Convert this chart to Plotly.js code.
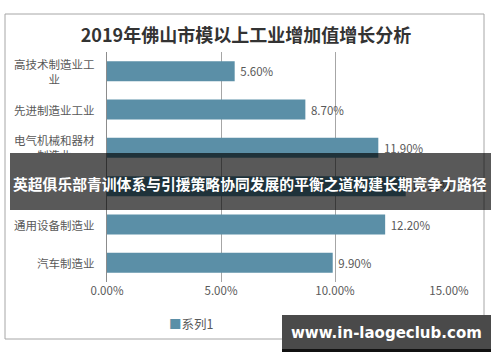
<!DOCTYPE html>
<html><head><meta charset="utf-8">
<script src="https://cdn.plot.ly/plotly-3.0.1.min.js"></script>
<style>body{margin:0;background:#fff}#c{width:500px;height:362px}</style>
</head><body><div id="c"></div>
<script>
var categories = ["高技术制造业工<br>业", "先进制造业工业", "电气机械和器材<br>制造业", "金属制品业", "通用设备制造业", "汽车制造业"];
var values = [0.056, 0.087, 0.119, 0.131, 0.122, 0.099];
var seriesName = "系列1";
var titleText = "2019年佛山市模以上工业增加值增长分析";
var bannerText = "英超俱乐部青训体系与引援策略协同发展的平衡之道构建长期竞争力路径";
var watermarkText = "www.in-laogeclub.com";

var L = 107, R = 449, T = 52, B = 282;
function px(x){ return (x - L) / (R - L); }
function py(y){ return (B - y) / (B - T); }
var font = '"Noto Sans CJK SC", "Noto Sans", sans-serif';
var barColor = '#5b8fa7';

var trace = {
  type: 'bar', orientation: 'h', name: seriesName,
  x: values, y: categories,
  marker: {color: barColor, line: {width: 0}},
  text: values, texttemplate: ' %{x:.2%}', textposition: 'outside',
  textfont: {size: 11.5, color: '#595959', family: font},
  cliponaxis: false, hoverinfo: 'none', showlegend: false
};

var annotations = categories.map(function(c){
  return {text: c, xref: 'paper', yref: 'y', x: px(97), y: c, xanchor: 'right', yanchor: 'middle',
          align: 'center', showarrow: false, font: {size: 11.5, color: '#595959', family: font}};
});
annotations.push(
  {text: '<span style="color:' + barColor + '">■</span>' + seriesName, xref: 'paper', yref: 'paper',
   x: px(167), y: py(323), xanchor: 'left', yanchor: 'middle', showarrow: false,
   font: {size: 12.5, color: '#595959', family: font}},
  {text: '<b>' + bannerText + '</b>', xref: 'paper', yref: 'paper',
   x: px(250), y: py(183), xanchor: 'center', yanchor: 'middle', showarrow: false,
   font: {size: 14.8, color: '#fff', family: font}},
  {text: '<b>' + watermarkText + '</b>', xref: 'paper', yref: 'paper',
   x: px(386), y: py(333), xanchor: 'center', yanchor: 'middle', showarrow: false,
   font: {size: 15, color: '#fff', family: '"DejaVu Sans", sans-serif'}}
);

var layout = {
  width: 500, height: 362,
  margin: {l: L, r: 500 - R, t: T, b: 362 - B, pad: 0},
  paper_bgcolor: '#fff', plot_bgcolor: '#fff',
  font: {family: font, color: '#595959', size: 11},
  title: {text: titleText, x: 0.492, xanchor: 'center', y: 1 - 36/362, yanchor: 'middle',
          font: {size: 18, color: '#333', family: font, weight: 'bold'}},
  bargap: 0.48,
  showlegend: false,
  xaxis: {range: [0, 0.15], dtick: 0.05, tick0: 0, tickformat: '.2%',
          showgrid: true, gridcolor: '#a6a6a6', gridwidth: 1, zeroline: false,
          showline: false, ticks: '', ticklen: 0,
          tickfont: {size: 11.5, color: '#595959', family: font}, fixedrange: true},
  yaxis: {autorange: 'reversed', showline: true, linecolor: '#8c8c8c', linewidth: 1,
          ticks: '', showticklabels: false, showgrid: false, zeroline: false, fixedrange: true},
  shapes: [
    {type: 'rect', xref: 'paper', yref: 'paper', layer: 'below',
     x0: px(5), x1: px(484), y0: py(14), y1: py(339),
     line: {color: '#a6a6a6', width: 1}, fillcolor: 'rgba(0,0,0,0)'},
    {type: 'rect', xref: 'paper', yref: 'paper', layer: 'above',
     x0: px(10), x1: px(491), y0: py(153), y1: py(210),
     line: {width: 0}, fillcolor: 'rgba(0,0,0,0.65)'},
    {type: 'rect', xref: 'paper', yref: 'paper', layer: 'above',
     x0: px(282), x1: px(491), y0: py(315), y1: py(352),
     line: {width: 0}, fillcolor: '#4a4a4a'},
    {type: 'rect', xref: 'paper', yref: 'paper', layer: 'above',
     x0: px(282), x1: px(491), y0: py(349), y1: py(352),
     line: {width: 0}, fillcolor: '#111'}
  ],
  annotations: annotations
};
Plotly.newPlot('c', [trace], layout, {staticPlot: true, displayModeBar: false});
</script></body></html>
